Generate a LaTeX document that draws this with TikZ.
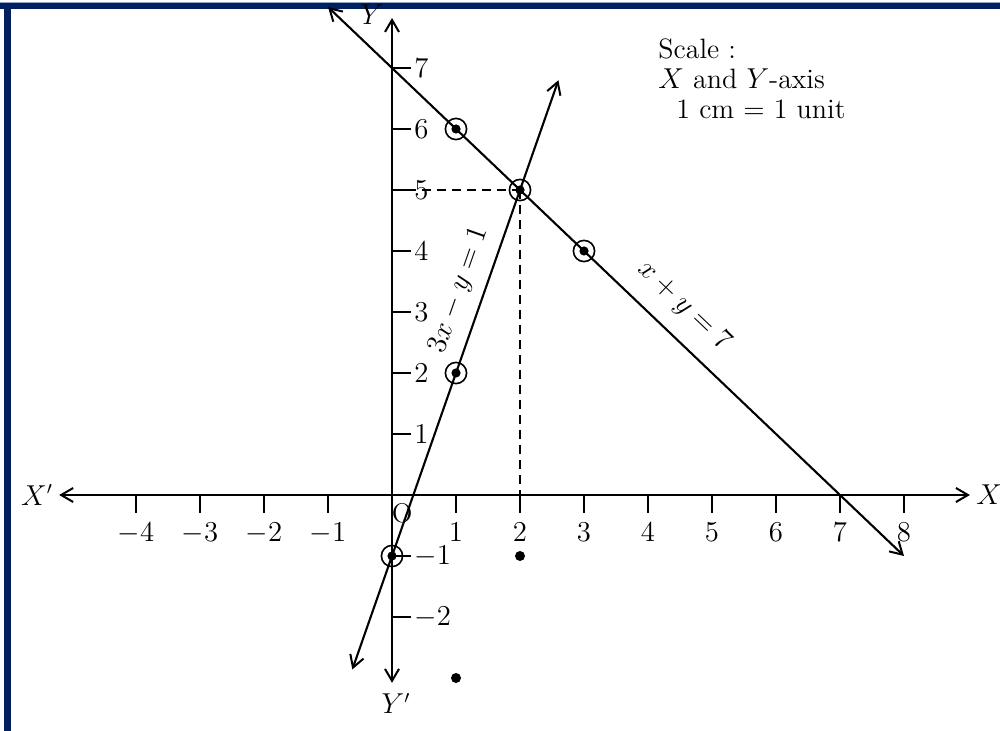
\documentclass[tikz,border=0pt]{standalone}
\usetikzlibrary{arrows.meta}
\definecolor{framec}{HTML}{002060}
\definecolor{framelight}{HTML}{8FA3C4}
\begin{document}
\begin{tikzpicture}[x=0.5pt,y=-0.5pt,
  font=\fontsize{13.5}{15}\selectfont,
  axisline/.style={line width=1.3pt, {Straight Barb[length=6pt,width=7pt,line width=1pt]}-{Straight Barb[length=6pt,width=7pt,line width=1pt]}},
  graphline/.style={line width=1.05pt, {Straight Barb[length=6pt,width=7pt,line width=1pt]}-{Straight Barb[length=6pt,width=7pt,line width=1pt]}},
  tick/.style={line width=0.9pt},
  guide/.style={line width=0.9pt, dash pattern=on 4.5pt off 3pt},
  ring/.style={line width=0.8pt},
  lbl/.style={inner sep=1pt}]
\useasboundingbox (0,0) rectangle (1000,731);
% frame
\fill[framelight] (0,2) rectangle (1000,3);
\fill[framec] (0,3) rectangle (1000,9.5);
\fill[framec] (4,3) rectangle (10.5,731);
% data scope
\begin{scope}[shift={(196pt,-247.5pt)}, x=32pt, y=30.5pt]
  \coordinate (xs) at (-5.2,0);
  \coordinate (xe) at (9.03,0);
  \coordinate (ys) at (0,-3.08);
  \coordinate (ye) at (0,7.82);
  \draw[axisline] (xs) -- (xe);
  \draw[axisline] (ys) -- (ye);
  \node[lbl, anchor=east] (xp) at ([xshift=-2pt]xs) {$X'$};
  \node[lbl, anchor=west] (xx) at ([xshift=2pt]xe) {$X$};
  \node[lbl, anchor=east] (yy) at ([xshift=-3pt,yshift=1.5pt]ye) {$Y$};
  \node[lbl, anchor=north] (yp) at ([xshift=2pt,yshift=-4pt]ys) {$Y'$};
  \node[lbl] (o) at (0.16,-0.3) {O};
  % x ticks
  \foreach \i in {-4,-3,-2,-1,1,2,3,4,5,6,7,8}{
    \draw[tick] (\i,0) -- ++(0,-9pt) coordinate (xt\i);
    \node[lbl, anchor=north] (xl\i) at ([yshift=-4pt]xt\i) {$\i$};
  }
  % y ticks
  \foreach \i in {-2,-1,1,2,3,4,5,6,7}{
    \draw[tick] (0,\i) -- ++(9.5pt,0) coordinate (yt\i);
    \node[lbl, anchor=west] (yl\i) at ([xshift=0.5pt]yt\i) {$\i$};
  }
  % dashed guides
  \coordinate (p25) at (2,5);
  \coordinate (p05) at (0,5);
  \coordinate (p20) at (2,0);
  \draw[guide] (p05) -- (p25);
  \draw[guide] (p25) -- (p20);
  % lines
  \coordinate (a1) at (-1,8);
  \coordinate (a2) at (8,-1);
  \draw[graphline] (a1) -- (a2);
  \coordinate (b1) at (-0.62,-2.86);
  \coordinate (b2) at (2.6,6.8);
  \draw[graphline] (b1) -- (b2);
  % labels on lines
  \node[inner sep=0pt, rotate=70.7] (lb) at (1.05,3.36) {$3x - y = 1$};
  \node[inner sep=0pt, rotate=-43.6] (la) at (4.56,3.1) {$x + y = 7$};
  % circled points
  \foreach \px/\py/\nm in {1/6/c1,2/5/c2,3/4/c3,1/2/c4,0/-1/c5}{
    \draw[ring] (\px,\py) circle (5.3pt);
    \fill (\px,\py) circle (2.3pt) coordinate (\nm);
  }
  % stray dots
  \fill (2,-1) circle (2.5pt);
  \fill (1,-3) circle (2.5pt);
\end{scope}
% scale note
\node[anchor=north west, align=left, inner sep=0pt, font=\fontsize{14}{15}\selectfont] (scale) at (658,38)
  {Scale :\\ $X$ and $Y$-axis\\ \hspace{9pt}1 cm = 1 unit};
\end{tikzpicture}
\end{document}
